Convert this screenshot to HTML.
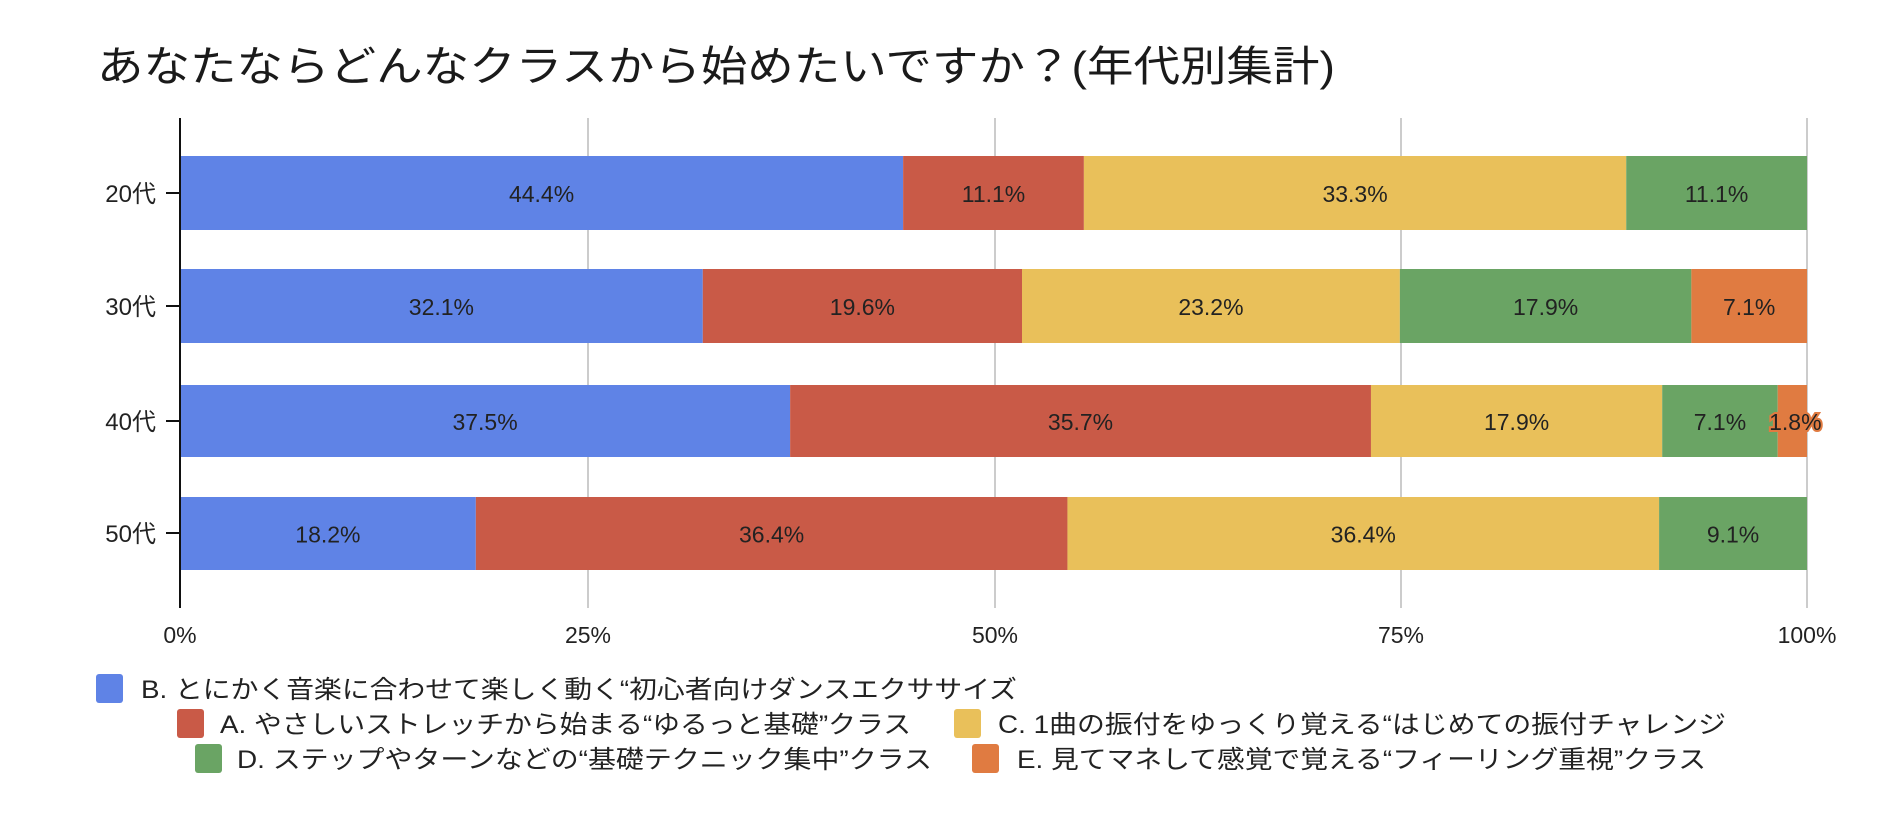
<!DOCTYPE html>
<html><head><meta charset="utf-8"><style>
body{margin:0;background:#fff}
svg text{font-family:"Liberation Sans","Noto Sans CJK JP",sans-serif}
</style></head><body>
<svg width="1886" height="822" xmlns="http://www.w3.org/2000/svg">
<rect width="1886" height="822" fill="#fff"/>
<text x="97" y="81" font-size="42" fill="#1a1a1a" textLength="1238" lengthAdjust="spacingAndGlyphs">あなたならどんなクラスから始めたいですか？(年代別集計)</text>
<g stroke="#ccc" stroke-width="2">
<line x1="588" y1="118" x2="588" y2="608"/><line x1="995" y1="118" x2="995" y2="608"/>
<line x1="1401" y1="118" x2="1401" y2="608"/><line x1="1807" y1="118" x2="1807" y2="608"/>
</g>
<g id="bars"></g>
<line x1="180" y1="118" x2="180" y2="608" stroke="#111" stroke-width="2"/>
<g stroke="#111" stroke-width="2">
<line x1="166" y1="193" x2="180" y2="193"/><line x1="166" y1="306" x2="180" y2="306"/>
<line x1="166" y1="421" x2="180" y2="421"/><line x1="166" y1="533" x2="180" y2="533"/>
</g>
<g font-size="24" fill="#222" text-anchor="end">
<text x="156" y="202">20代</text><text x="156" y="315">30代</text>
<text x="156" y="430">40代</text><text x="156" y="542">50代</text>
</g>
<g font-size="23" fill="#222" text-anchor="middle">
<text x="180" y="643">0%</text><text x="588" y="643">25%</text><text x="995" y="643">50%</text>
<text x="1401" y="643">75%</text><text x="1807" y="643">100%</text>
</g>
<g font-size="25" fill="#222" lengthAdjust="spacingAndGlyphs">
<rect x="96" y="674" width="27" height="29" rx="3" fill="#5f83e6"/><text x="141" y="698" textLength="876" lengthAdjust="spacingAndGlyphs">B. とにかく音楽に合わせて楽しく動く“初心者向けダンスエクササイズ</text>
<rect x="177" y="709" width="27" height="29" rx="3" fill="#c95a47"/><text x="220" y="733" textLength="691" lengthAdjust="spacingAndGlyphs">A. やさしいストレッチから始まる“ゆるっと基礎”クラス</text>
<rect x="954" y="709" width="27" height="29" rx="3" fill="#e9c05a"/><text x="998" y="733" textLength="728" lengthAdjust="spacingAndGlyphs">C. 1曲の振付をゆっくり覚える“はじめての振付チャレンジ</text>
<rect x="195" y="744" width="27" height="29" rx="3" fill="#6aa464"/><text x="237" y="768" textLength="695" lengthAdjust="spacingAndGlyphs">D. ステップやターンなどの“基礎テクニック集中”クラス</text>
<rect x="972" y="744" width="27" height="29" rx="3" fill="#e07b41"/><text x="1017" y="768" textLength="689" lengthAdjust="spacingAndGlyphs">E. 見てマネして感覚で覚える“フィーリング重視”クラス</text>
</g>
</svg>
<script>
var data=[[156,230,[44.4,11.1,33.3,11.1,0]],[269,343,[32.1,19.6,23.2,17.9,7.1]],[385,457,[37.5,35.7,17.9,7.1,1.8]],[497,570,[18.2,36.4,36.4,9.1,0]]];
var cols=["#5f83e6","#c95a47","#e9c05a","#6aa464","#e07b41"];
var g=document.getElementById("bars"),s="";
data.forEach(function(d){var tot=d[2].reduce(function(a,b){return a+b},0),x=180,W=1627;
d[2].forEach(function(v,i){if(!v)return;var w=v/tot*W;
s+='<rect x="'+x+'" y="'+d[0]+'" width="'+w+'" height="'+(d[1]-d[0])+'" fill="'+cols[i]+'"/>';
var cx=x+w/2,cy=(d[0]+d[1])/2+9;
if(v==1.8){cx=x+w/2+3;s+='<text x="'+cx+'" y="'+cy+'" font-size="23" text-anchor="middle" fill="#222" stroke="#e07b41" stroke-width="4" paint-order="stroke">1.8%</text>';}
else s+='<text x="'+cx+'" y="'+cy+'" font-size="23" text-anchor="middle" fill="#222">'+v.toFixed(1)+'%</text>';
x+=w;});});
g.innerHTML=s;
</script>
</body></html>
